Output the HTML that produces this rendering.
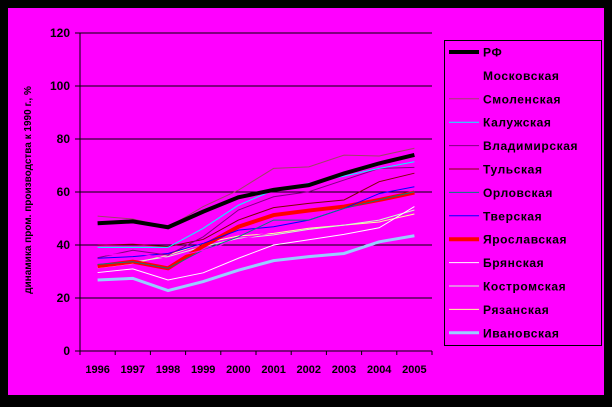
<!DOCTYPE html>
<html><head><meta charset="utf-8"><style>
body{margin:0;background:#000;width:612px;height:402px;overflow:hidden}
svg text{font-family:"Liberation Sans",sans-serif;font-weight:bold}
</style></head><body>
<svg width="612" height="402">
<rect x="8" y="8" width="596" height="387" fill="#ff00ff"/>
<g id="grid"></g><g id="series"></g><g id="legend"></g>
<text transform="translate(31,190) rotate(-90)" text-anchor="middle" font-size="10" fill="#000">динамика пром. производства к 1990 г., %</text>
</svg>
<script>
const years=["1996","1997","1998","1999","2000","2001","2002","2003","2004","2005"];
const yTicks=[0,20,40,60,80,100,120];
const names=["РФ","Московская","Смоленская","Калужская","Владимирская","Тульская","Орловская","Тверская","Ярославская","Брянская","Костромская","Рязанская","Ивановская"];
const colors=["#000000","#ff00ff","#a0406a","#00ffff","#800080","#800000","#008080","#0000ff","#ff0000","#ffffff","#ccffcc","#ffff99","#99ccff"];
const widths=[4,1,1,1,1,1,1,1,4,1,1,1,3];
const vRF=[48.2,48.9,46.7,52.6,58,60.8,62.6,67,70.8,74];
const vMos=[36,37,35,38,42,45,47,50,53,55];
const vSmol=[50.9,49.8,46.7,54.5,60.7,68.9,69.5,73.9,73.6,76.5];
const vKal=[39.1,39.1,39.1,46.3,55,60.7,63.3,66,68.9,71.4];
const vVlad=[35.2,38,36.2,43.1,53.2,58.2,60.1,64.5,68.9,69.3];
const vTul=[39.9,40.3,39.4,42.1,49.4,54.1,55.7,57,63.9,67.1];
const vOrl=[32.7,33.7,31.2,38.1,43.1,49.4,49.4,53.8,57,60.1];
const vTver=[35,35.6,36.8,40.6,45.6,46.9,49.4,53.8,59.4,62];
const vYar=[32,33.7,31.2,39.6,46.9,51.3,53,54.5,57,59.8];
const vBry=[29.6,31,26.8,29.5,35,40,42,44,46.5,54.5];
const vKos=[31.8,33.5,35.6,39.4,42.5,43.8,45.9,47.5,49.4,53.2];
const vRya=[31.4,33,36.2,40.6,43.4,44.4,46.3,47.5,48.7,51.7];
const vIva=[26.8,27.4,22.8,26.2,30.5,34.1,35.6,36.8,41.2,43.5];
const allVals=[vRF,vMos,vSmol,vKal,vVlad,vTul,vOrl,vTver,vYar,vBry,vKos,vRya,vIva];
const X0=80,X1=432,Y0=351,Y1=33,NS="http://www.w3.org/2000/svg";
const cw=(X1-X0)/years.length;
const xS=i=>X0+cw*(i+0.5);
const yS=v=>Y0-(v/120)*(Y0-Y1);
function mk(t,a,p){const e=document.createElementNS(NS,t);for(const k in a)e.setAttribute(k,a[k]);p.appendChild(e);return e;}
const grid=document.getElementById('grid');
yTicks.forEach(v=>{
 const l=mk('line',{x1:75,x2:v===0?X1:X1,y1:yS(v),y2:yS(v),stroke:'#000','stroke-width':1},grid);
 
 
 const t=mk('text',{x:70,y:yS(v)+4,'text-anchor':'end','font-size':12,fill:'#000'},grid);
 t.textContent=v;
 
 
});
const ax=mk('line',{x1:X0,x2:X0,y1:Y1,y2:Y0,stroke:'#000'},grid);


for(let i=0;i<=years.length;i++){mk('line',{x1:X0+cw*i,x2:X0+cw*i,y1:Y0,y2:Y0+4,stroke:'#000'},grid);}
years.forEach((y,i)=>{
 const t=mk('text',{x:xS(i),y:373,'text-anchor':'middle','font-size':11,fill:'#000'},grid);
 t.textContent=y;
 
 
});
const sg=document.getElementById('series');
for(let s=allVals.length-1;s>=0;s--){
 const pts=allVals[s].map((v,i)=>xS(i)+','+yS(v)).join(' ');
 const p=mk('polyline',{points:pts,fill:'none',stroke:colors[s],'stroke-width':widths[s]},sg);
 
 
}
const lg=document.getElementById('legend');
const box=mk('rect',{x:444.5,y:40.5,width:157,height:305,fill:'#ff00ff',stroke:'#000'},lg);


names.forEach((n,i)=>{
 const y=52+i*23.4;
 mk('line',{x1:449,x2:479,y1:y,y2:y,stroke:colors[i],'stroke-width':widths[i]},lg);
 const t=mk('text',{x:483,y:y+4.5,'font-size':12,fill:'#000','letter-spacing':'0.6'},lg);
 t.textContent=n;
 
 
});
</script>
</body></html>
